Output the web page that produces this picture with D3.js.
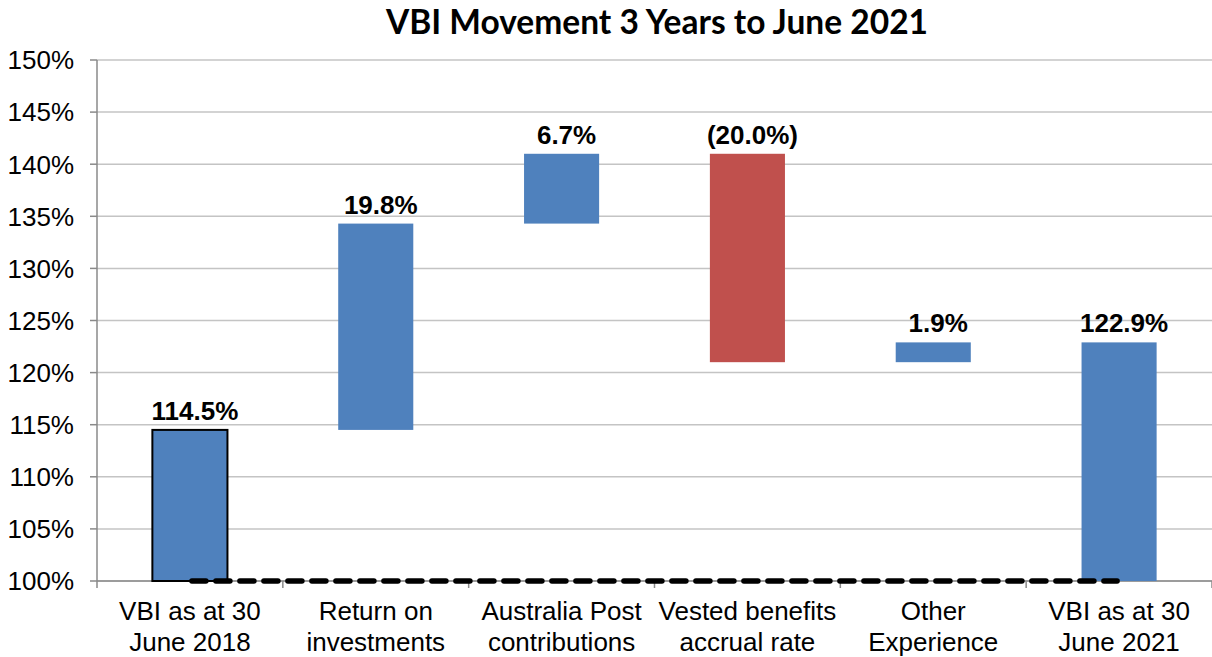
<!DOCTYPE html>
<html>
<head>
<meta charset="utf-8">
<script src="https://cdn.jsdelivr.net/npm/d3@7"></script>
<style>
  body { margin: 0; background: #fff; }
  .title { font-family: Lato, "Open Sans", sans-serif; font-weight: 700; font-size: 33.5px; }
  .tick-label, .cat-label { font-family: "Liberation Sans", Arial, sans-serif; font-size: 26px; fill: #000; }
  .bar-label { font-family: "Liberation Sans", Arial, sans-serif; font-size: 26px; font-weight: 700; fill: #000; }
</style>
</head>
<body>
<svg id="chart" width="1212" height="657"></svg>
<script>
// ── Data ──
const categories = [
  ["VBI as at 30", "June 2018"],
  ["Return on", "investments"],
  ["Australia Post", "contributions"],
  ["Vested benefits", "accrual rate"],
  ["Other", "Experience"],
  ["VBI as at 30", "June 2021"]
];
const kinds = ["total", "delta", "delta", "delta", "delta", "total"];
const values = [114.5, 19.8, 6.7, -20.0, 1.9, 122.9];
const labels = ["114.5%", "19.8%", "6.7%", "(20.0%)", "1.9%", "122.9%"];
const yTicks = [100, 105, 110, 115, 120, 125, 130, 135, 140, 145, 150];

// ── Layout ──
const margin = { top: 60, right: 0, bottom: 76, left: 97 };
const width = 1212 - margin.left - margin.right;
const height = 657 - margin.top - margin.bottom;

const svg = d3.select("#chart");
const g = svg.append("g").attr("transform", `translate(${margin.left},${margin.top})`);

const x = d3.scaleBand().domain(d3.range(categories.length)).range([0, width]).paddingInner(0).paddingOuter(0);
const y = d3.scaleLinear().domain([100, 150]).range([height, 0]);
const barW = x.bandwidth() * 0.404;

// waterfall extents
let running = 0;
const bars = values.map((v, i) => {
  let lo, hi;
  if (kinds[i] === "total") { lo = 100; hi = v; running = v; }
  else { const next = running + v; lo = Math.min(running, next); hi = Math.max(running, next); running = next; }
  return { i, lo, hi, v, label: labels[i], kind: kinds[i] };
});

// ── Title ──
svg.append("text").attr("class", "title")
  .attr("x", 657).attr("y", 34).attr("text-anchor", "middle")
  .text("VBI Movement 3 Years to June 2021");

// ── Grid ──
g.selectAll(".grid").data(yTicks).join("line")
  .attr("x1", 0).attr("x2", width)
  .attr("y1", d => y(d)).attr("y2", d => y(d))
  .attr("stroke", "#c4c4c4").attr("stroke-width", 1.5);

// ── Y axis ──
g.append("line").attr("x1", 0).attr("x2", 0).attr("y1", 0).attr("y2", height)
  .attr("stroke", "#8a8a8a").attr("stroke-width", 1.5);
g.selectAll(".ytick").data(yTicks).join("line")
  .attr("x1", -7).attr("x2", 0)
  .attr("y1", d => y(d)).attr("y2", d => y(d))
  .attr("stroke", "#8a8a8a").attr("stroke-width", 1.5);
g.selectAll(".tick-label").data(yTicks).join("text")
  .attr("class", "tick-label")
  .attr("x", -23).attr("y", d => y(d)).attr("dy", "0.36em")
  .attr("text-anchor", "end")
  .text(d => d + "%");

// ── X axis ──
g.append("line").attr("x1", 0).attr("x2", width).attr("y1", height).attr("y2", height)
  .attr("stroke", "#8a8a8a").attr("stroke-width", 1.5);
g.selectAll(".xtick").data(d3.range(categories.length + 1)).join("line")
  .attr("x1", d => d * x.bandwidth()).attr("x2", d => d * x.bandwidth())
  .attr("y1", height).attr("y2", height + 7)
  .attr("stroke", "#8a8a8a").attr("stroke-width", 1.5);

const cat = g.selectAll(".cat-label").data(categories).join("text")
  .attr("class", "cat-label")
  .attr("text-anchor", "middle")
  .attr("transform", (d, i) => `translate(${x(i) + x.bandwidth() / 2},${height + 39})`);
cat.selectAll("tspan").data(d => d).join("tspan")
  .attr("x", 0).attr("dy", (d, j) => j === 0 ? 0 : 31)
  .text(d => d);

// ── Bars ──
g.selectAll(".bar").data(bars).join("rect")
  .attr("class", "bar")
  .attr("x", d => x(d.i) + (x.bandwidth() - barW) / 2)
  .attr("width", barW)
  .attr("y", d => y(d.hi))
  .attr("height", d => y(d.lo) - y(d.hi))
  .attr("fill", d => d.v < 0 ? "#c0504d" : "#4f81bd")
  .attr("stroke", d => d.i === 0 ? "#000" : "none")
  .attr("stroke-width", 2);

// ── Value labels ──
g.selectAll(".bar-label").data(bars).join("text")
  .attr("class", "bar-label")
  .attr("x", d => x(d.i) + x.bandwidth() / 2 + 5)
  .attr("y", d => y(d.hi) - 10)
  .attr("text-anchor", "middle")
  .text(d => d.label);

// ── Dashed baseline from first to last total ──
g.append("line")
  .attr("x1", x(0) + x.bandwidth() / 2 + 2)
  .attr("x2", x(categories.length - 1) + x.bandwidth() / 2 - 2)
  .attr("y1", y(100)).attr("y2", y(100))
  .attr("stroke", "#000").attr("stroke-width", 5.5)
  .attr("stroke-linecap", "round")
  .attr("stroke-dasharray", "14,10");
</script>
</body>
</html>
